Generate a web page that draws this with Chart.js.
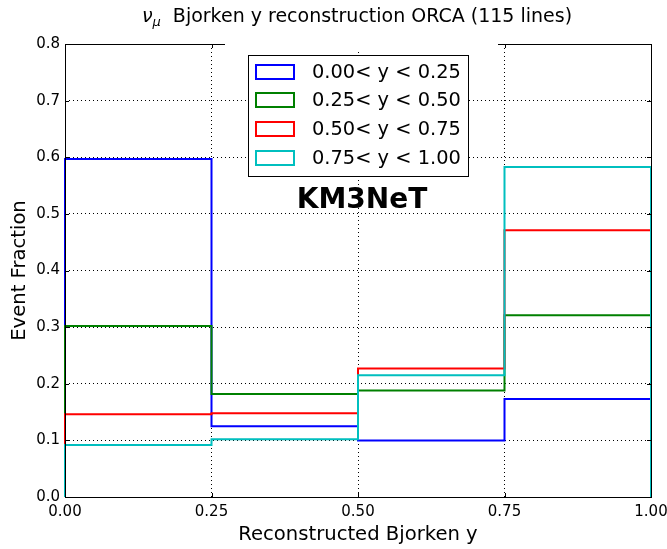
<!DOCTYPE html>
<html>
<head>
<meta charset="utf-8">
<script src="https://cdn.jsdelivr.net/npm/chart.js@4/dist/chart.umd.min.js"></script>
<style>
html,body{margin:0;padding:0;background:#fff;}
#wrap{width:667px;height:549px;position:relative;}
</style>
</head>
<body>
<div id="wrap"><canvas id="c" width="667" height="549"></canvas></div>
<script>
// ---- data ----
const binEdges = [0.00, 0.25, 0.50, 0.75, 1.00];
const seriesLabels = ['0.00< y < 0.25', '0.25< y < 0.50', '0.50< y < 0.75', '0.75< y < 1.00'];
const seriesColors = ['#0000ff', '#008000', '#ff0000', '#00bfbf'];
const fracY000_025 = [0.597, 0.125, 0.100, 0.173];
const fracY025_050 = [0.302, 0.182, 0.188, 0.321];
const fracY050_075 = [0.146, 0.148, 0.227, 0.471];
const fracY075_100 = [0.092, 0.102, 0.215, 0.583];
const xTicks = [0.00, 0.25, 0.50, 0.75, 1.00];
const yTicks = [0.0, 0.1, 0.2, 0.3, 0.4, 0.5, 0.6, 0.7, 0.8];
const titleText = 'Bjorken y reconstruction ORCA (115 lines)';
const xLabel = 'Reconstructed Bjorken y';
const yLabel = 'Event Fraction';
const watermark = 'KM3NeT';

const allSeries = [fracY000_025, fracY025_050, fracY050_075, fracY075_100];

function stepPoints(vals) {
  const pts = [{x: binEdges[0], y: 0}];
  for (let i = 0; i < vals.length; i++) pts.push({x: binEdges[i], y: vals[i]});
  pts.push({x: binEdges[binEdges.length - 1], y: vals[vals.length - 1]});
  pts.push({x: binEdges[binEdges.length - 1], y: 0});
  return pts;
}

const FONT = '"DejaVu Sans", sans-serif';

const datasets = allSeries.map((vals, i) => ({
  label: seriesLabels[i],
  data: stepPoints(vals),
  borderColor: seriesColors[i],
  backgroundColor: seriesColors[i],
  borderWidth: 2,
  pointRadius: 0,
  fill: false,
  stepped: true,
  tension: 0,
  clip: false,
  order: allSeries.length - i
}));

const decoPlugin = {
  id: 'deco',
  afterDraw(chart) {
    const ctx = chart.ctx;
    const a = chart.chartArea;
    const xs = chart.scales.x, ys = chart.scales.y;
    ctx.save();
    // frame
    ctx.strokeStyle = '#000';
    ctx.lineWidth = 1;
    ctx.strokeRect(Math.round(a.left) + 0.5, Math.round(a.top) + 0.5, Math.round(a.right - a.left), Math.round(a.bottom - a.top));
    // inward ticks
    ctx.beginPath();
    xTicks.forEach(v => {
      const px = Math.round(xs.getPixelForValue(v)) + 0.5;
      ctx.moveTo(px, a.bottom); ctx.lineTo(px, a.bottom - 4);
      ctx.moveTo(px, a.top); ctx.lineTo(px, a.top + 4);
    });
    yTicks.forEach(v => {
      const py = Math.round(ys.getPixelForValue(v)) + 0.5;
      ctx.moveTo(a.left, py); ctx.lineTo(a.left + 4, py);
      ctx.moveTo(a.right, py); ctx.lineTo(a.right - 4, py);
    });
    ctx.stroke();
    // white patch over the top frame
    ctx.fillStyle = '#fff';
    ctx.fillRect(225, 36, 273, 14);
    // legend
    const lx = 248, ly = 55, lw = 220, lh = 121;
    ctx.fillStyle = '#fff';
    ctx.fillRect(lx, ly, lw, lh);
    ctx.strokeStyle = '#000';
    ctx.lineWidth = 1;
    ctx.strokeRect(lx + 0.5, ly + 0.5, lw, lh);
    ctx.font = '19.4px ' + FONT;
    ctx.textBaseline = 'middle';
    ctx.textAlign = 'left';
    seriesLabels.forEach((lab, i) => {
      const cy = 71.7 + i * 28.6;
      ctx.strokeStyle = seriesColors[i];
      ctx.lineWidth = 2;
      ctx.strokeRect(256, Math.round(cy - 7), 38, 14);
      ctx.fillStyle = '#000';
      ctx.fillText(lab, 312, cy + 1);
    });
    // watermark
    ctx.font = 'bold 28px ' + FONT;
    ctx.textAlign = 'center';
    ctx.textBaseline = 'alphabetic';
    ctx.fillStyle = '#000';
    ctx.fillText(watermark, 362, 208);
    // title
    const fMain = '19px ' + FONT;
    const fNu = 'italic 19px ' + FONT;
    const fMu = 'italic 13px ' + FONT;
    ctx.font = fNu; const wNu = ctx.measureText('ν').width;
    ctx.font = fMu; const wMu = ctx.measureText('μ').width;
    ctx.font = fMain; const wSp = ctx.measureText('  ').width; const wT = ctx.measureText(titleText).width;
    const total = wNu + wMu + wSp + wT;
    let x0 = 357 - total / 2;
    const base = 22;
    ctx.textAlign = 'left';
    ctx.font = fNu; ctx.fillText('ν', x0, base); x0 += wNu;
    ctx.font = fMu; ctx.fillText('μ', x0, base + 4); x0 += wMu + wSp;
    ctx.font = fMain; ctx.fillText(titleText, x0, base);
    ctx.restore();
  }
};

new Chart(document.getElementById('c'), {
  type: 'line',
  data: { datasets },
  options: {
    responsive: false,
    animation: false,
    devicePixelRatio: 1,
    layout: { padding: { top: 44, right: 16, left: 0, bottom: 0 } },
    plugins: { legend: { display: false }, title: { display: false }, tooltip: { enabled: false } },
    scales: {
      x: {
        type: 'linear', min: 0, max: 1,
        afterBuildTicks: s => { s.ticks = xTicks.map(v => ({value: v})); },
        afterFit: s => { s.height = 52; s.paddingLeft = 0; s.paddingRight = 0; },
        ticks: { color: '#000', font: { family: FONT, size: 15 }, padding: 6, maxRotation: 0, autoSkip: false,
                 callback: v => Number(v).toFixed(2) },
        grid: { color: '#000', lineWidth: 1, drawTicks: false },
        border: { display: false, dash: [1, 3] },
        title: { display: true, text: xLabel, color: '#000', font: { family: FONT, size: 19.6 }, padding: { top: 0, bottom: 2 } }
      },
      y: {
        type: 'linear', min: 0, max: 0.8,
        afterBuildTicks: s => { s.ticks = yTicks.map(v => ({value: v})); },
        afterFit: s => { s.width = 65; s.paddingTop = 0; s.paddingBottom = 0; },
        ticks: { color: '#000', font: { family: FONT, size: 15 }, padding: 5, autoSkip: false,
                 callback: v => Number(v).toFixed(1) },
        grid: { color: '#000', lineWidth: 1, drawTicks: false },
        border: { display: false, dash: [1, 3] },
        title: { display: true, text: yLabel, color: '#000', font: { family: FONT, size: 19.6 }, padding: { top: 8, bottom: 0 } }
      }
    }
  },
  plugins: [decoPlugin]
});
</script>
</body>
</html>
